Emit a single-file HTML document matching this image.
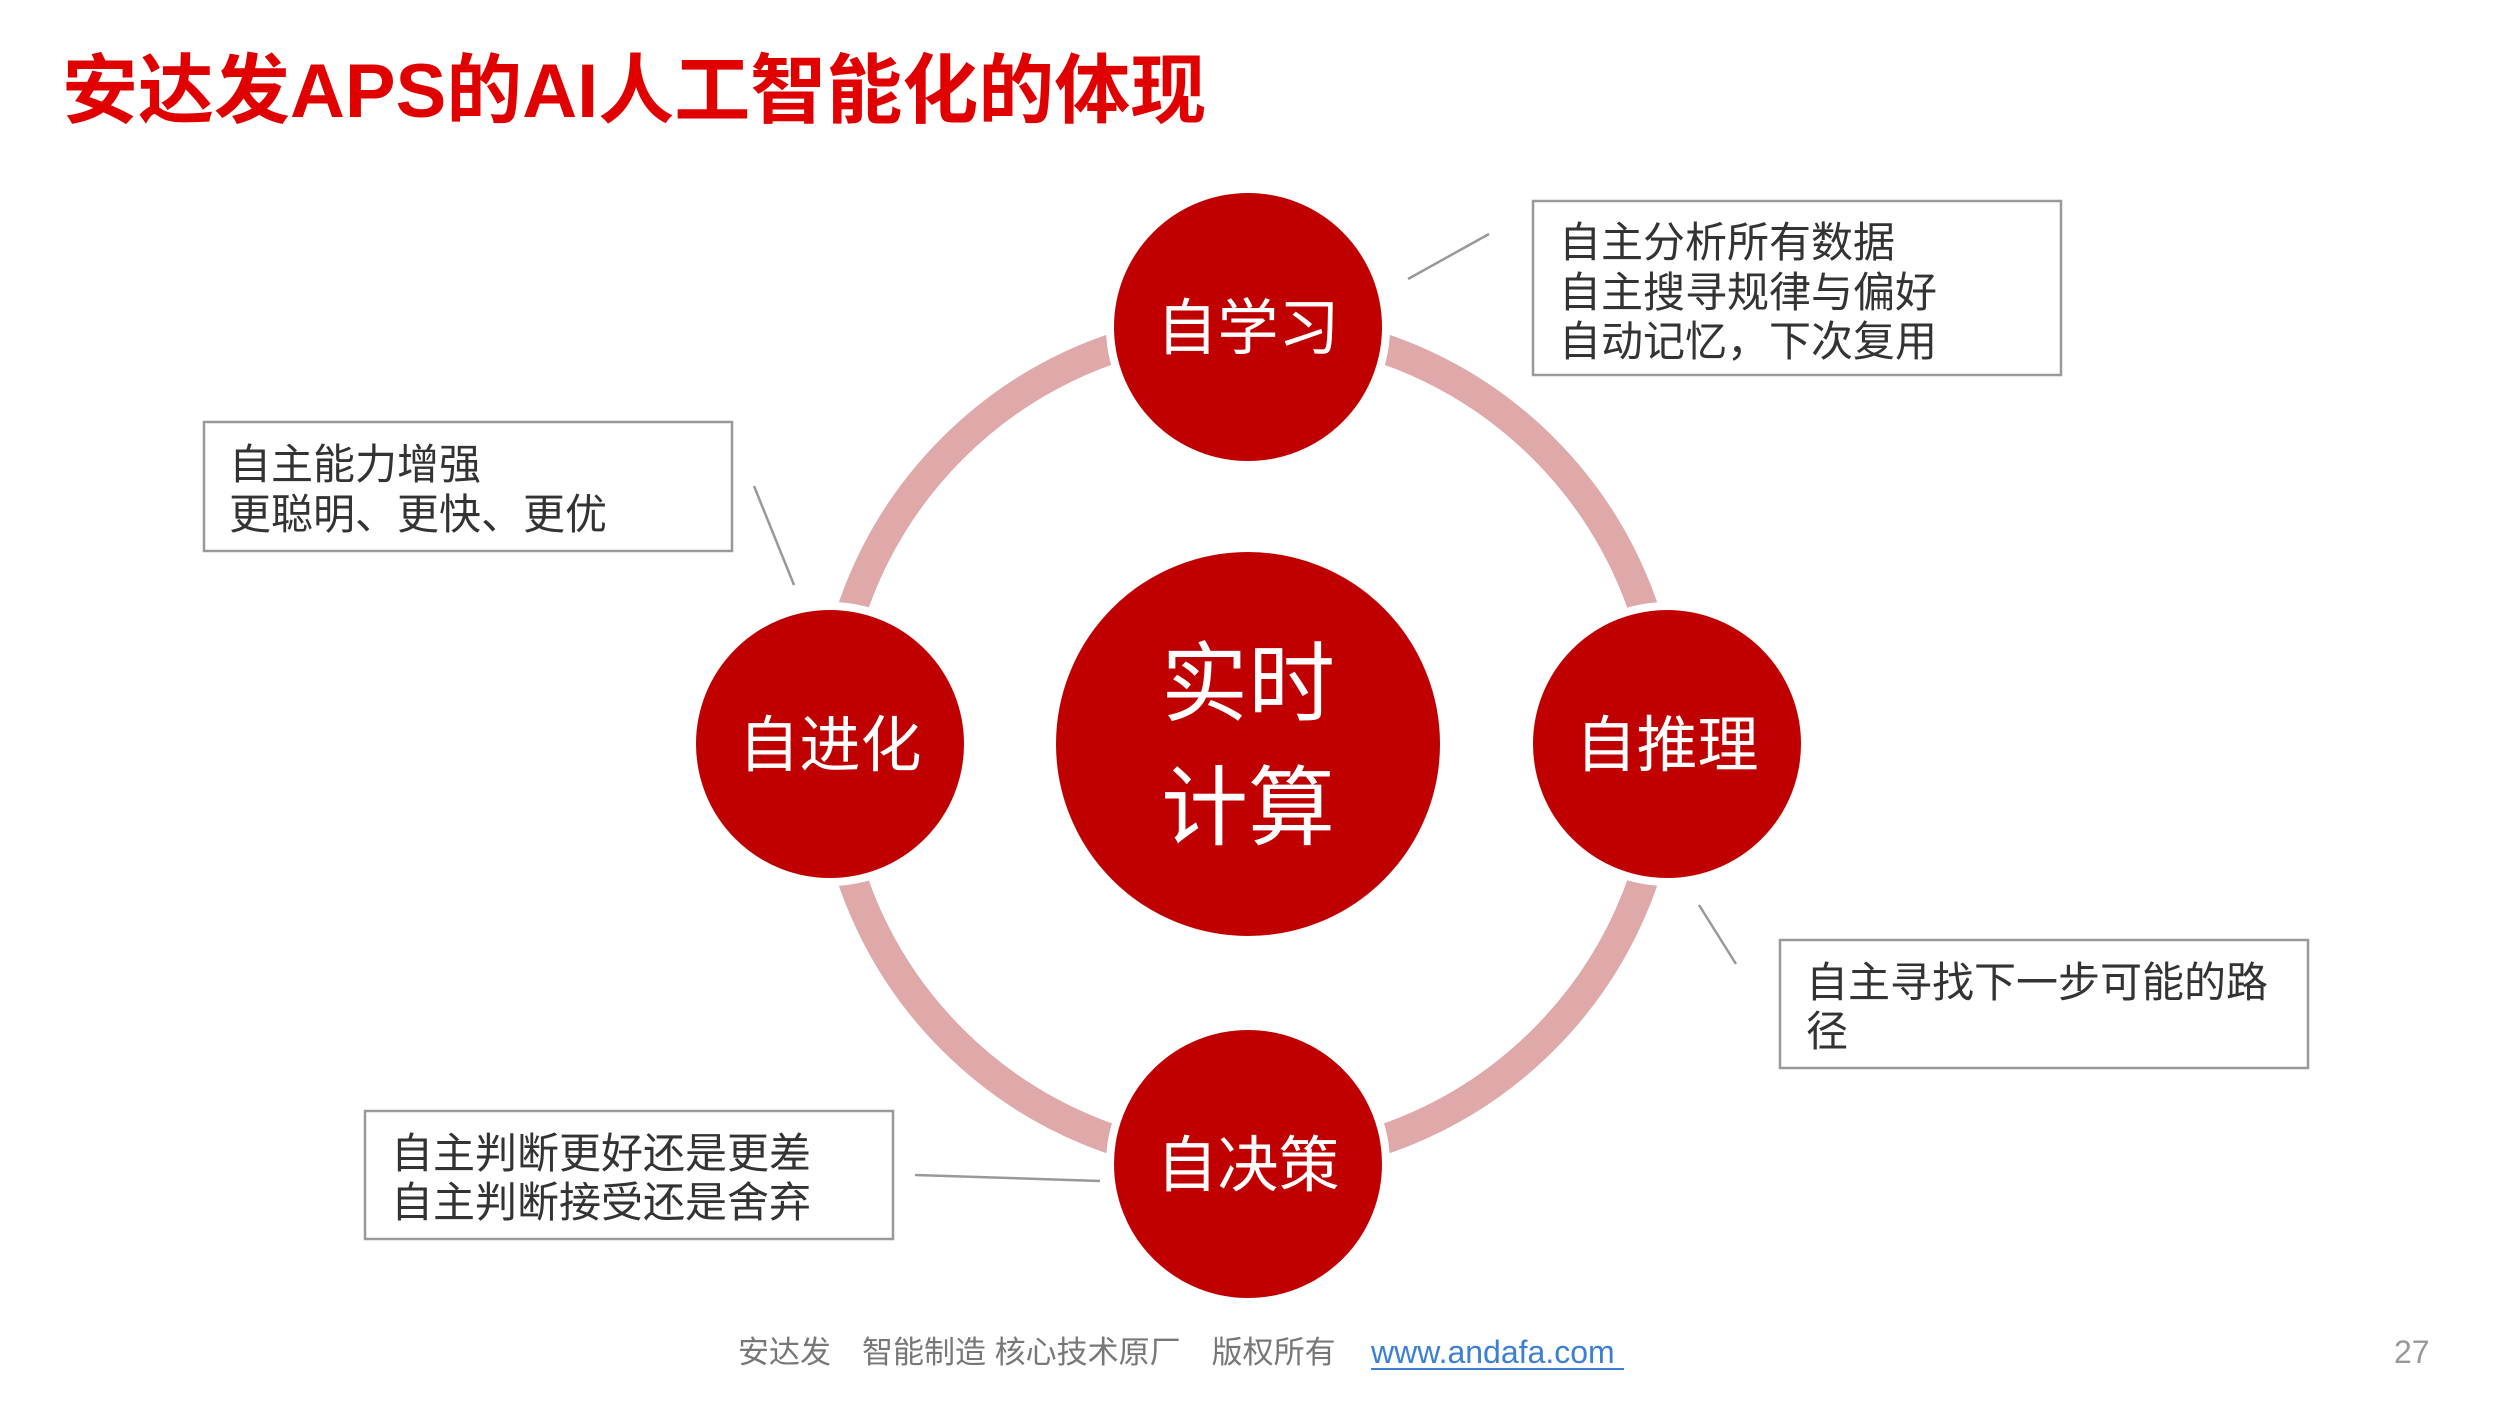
<!DOCTYPE html>
<html><head><meta charset="utf-8"><style>
html,body{margin:0;padding:0;background:#fff;}
svg{display:block;}
text{font-family:"Liberation Sans","Noto Sans CJK SC",sans-serif;}
</style></head><body>
<svg width="2500" height="1406" viewBox="0 0 2500 1406" xmlns="http://www.w3.org/2000/svg">
<rect width="2500" height="1406" fill="#fff"/>
<text x="62" y="117" font-size="76" font-weight="bold" fill="#e00000">安达发APS的AI人工智能化的体现</text>
<circle cx="1248" cy="744" r="418" fill="none" stroke="#e0a9a9" stroke-width="30"/>
<g fill="#c00000" stroke="#fff" stroke-width="8">
<circle cx="1248" cy="327" r="138"/>
<circle cx="1667" cy="744" r="138"/>
<circle cx="1248" cy="1164" r="138"/>
<circle cx="830" cy="744" r="138"/>
<circle cx="1248" cy="744" r="196"/>
</g>
<g fill="#fff" font-size="61" text-anchor="middle">
<text x="1248" y="349">自学习</text>
<text x="1667" y="766">自推理</text>
<text x="1248" y="1186">自决策</text>
<text x="830" y="766">自进化</text>
</g>
<g fill="#fff" font-size="87" text-anchor="middle">
<text x="1248" y="714">实时</text>
<text x="1248" y="838">计算</text>
</g>
<g fill="none" stroke="#999" stroke-width="2.5">
<rect x="1533" y="201" width="528" height="174"/>
<rect x="204" y="422" width="528" height="129"/>
<rect x="1780" y="940" width="528" height="128"/>
<rect x="365" y="1111" width="528" height="128"/>
<line x1="1408" y1="279" x2="1489" y2="234"/>
<line x1="754" y1="486" x2="794" y2="585"/>
<line x1="1699" y1="905" x2="1736" y2="964"/>
<line x1="915" y1="1175" x2="1100" y2="1181"/>
</g>
<g fill="#333" font-size="42">
<text x="1559" y="257">自主分析所有数据</text>
<text x="1559" y="307">自主搜寻规律与偏好</text>
<text x="1559" y="356">自动记忆，下次复用</text>
<text x="229" y="479">自主能力增强</text>
<text x="229" y="529">更聪明、更快、更优</text>
<text x="1806" y="997">自主寻找下一步可能的路</text>
<text x="1806" y="1046">径</text>
<text x="391" y="1168">自主判断更好还是更差</text>
<text x="391" y="1217">自主判断接受还是舍弃</text>
</g>
<text x="738" y="1363" font-size="31" fill="#777">安达发　智能制造 核心技术原厂　版权所有</text>
<text x="1371" y="1363" font-size="32" fill="#3b7fd6">www.andafa.com</text>
<line x1="1371" y1="1369" x2="1624" y2="1369" stroke="#3b7fd6" stroke-width="2"/>
<text x="2394" y="1363" font-size="32" fill="#999">27</text>
</svg>
</body></html>
